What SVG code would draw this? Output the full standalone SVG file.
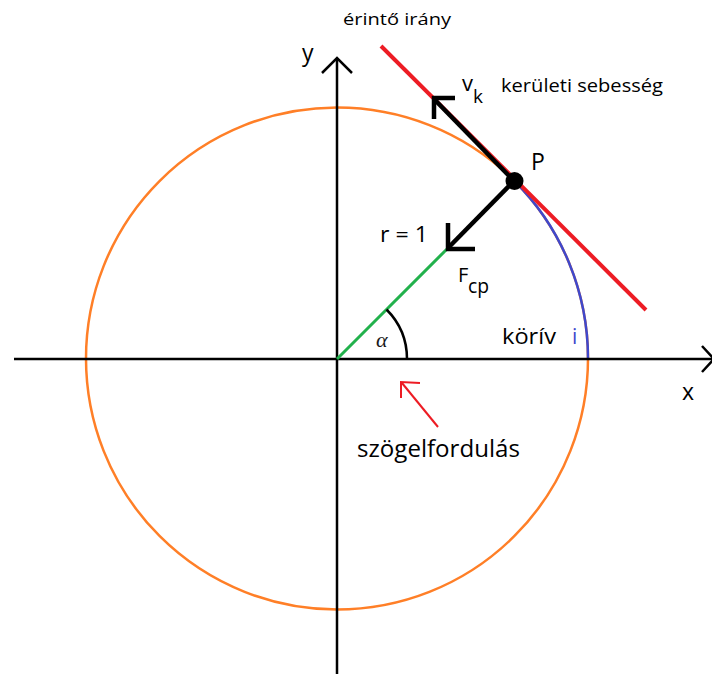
<svg xmlns="http://www.w3.org/2000/svg" width="712" height="674" viewBox="0 0 712 674">
<style>
.t{font-family:"Open Sans","Liberation Sans",sans-serif;fill:#000}
.ax{stroke:#000;stroke-width:2.5;fill:none}
.blk{stroke:#000;stroke-width:4.5;fill:none;stroke-linecap:butt}
</style>
<rect width="712" height="674" fill="#fff"/>
<g id="circle">
<circle cx="337" cy="358.5" r="251" fill="none" stroke="#ff7f27" stroke-width="2.5"/>
<path d="M514.5,181 A251,251 0 0 1 588,358.5" fill="none" stroke="#3f48cc" stroke-width="2.5"/>
</g>
<g id="connectors">
<line class="ax" x1="14" y1="359" x2="713" y2="359"/>
<polyline class="ax" points="702,346 714,359 702,372"/>
<line class="ax" x1="337" y1="58" x2="337" y2="674"/>
<polyline class="ax" points="322,73 337,58 352,73"/>
<line x1="381" y1="46" x2="646" y2="310" stroke="#ed1c24" stroke-width="4"/>
<line x1="337" y1="359" x2="447" y2="249" stroke="#22b14c" stroke-width="3"/>
<path d="M407,359 A70,70 0 0 0 386.5,309.5" fill="none" stroke="#000" stroke-width="2.5"/>
<line class="blk" x1="514" y1="181" x2="434" y2="99"/>
<polyline class="blk" points="455,98 434,98 434,119"/>
<line class="blk" x1="514" y1="181" x2="448" y2="248"/>
<polyline class="blk" points="448,223 448,249 475,249"/>
<line x1="438" y1="427" x2="402" y2="383" stroke="#ed1c24" stroke-width="2"/>
<polyline points="420,383 401,382 401,398" fill="none" stroke="#ed1c24" stroke-width="2"/>
</g>
<g id="point-P">
<circle cx="514.5" cy="181" r="9" fill="#000"/>
<text class="t" x="531" y="170" font-size="23">P</text>
</g>
<g id="labels">
<text class="t" x="343" y="25" font-size="17" textLength="108" lengthAdjust="spacingAndGlyphs">érintő irány</text>
<text class="t" x="302" y="61" font-size="23">y</text>
<text class="t" x="462" y="91" font-size="22">v</text>
<text class="t" x="473" y="103" font-size="19">k</text>
<text class="t" x="501" y="92" font-size="18" textLength="162" lengthAdjust="spacingAndGlyphs">kerületi sebesség</text>
<text class="t" x="380" y="242" font-size="22" textLength="48" lengthAdjust="spacingAndGlyphs">r = 1</text>
<text class="t" x="458" y="282" font-size="20">F</text>
<text class="t" x="468" y="293" font-size="20" textLength="21" lengthAdjust="spacingAndGlyphs">cp</text>
<text x="376" y="347" font-size="22" font-style="italic" font-family="Liberation Serif,serif" fill="#1a1a1a">α</text>
<text class="t" x="502" y="344" font-size="22" textLength="54" lengthAdjust="spacingAndGlyphs">körív</text>
<text class="t" x="572" y="344" font-size="21" fill="#3f48cc" style="fill:#3f48cc">i</text>
<text class="t" x="682" y="400" font-size="23">x</text>
<text class="t" x="357" y="457" font-size="23" textLength="163" lengthAdjust="spacingAndGlyphs">szögelfordulás</text>
</g>
</svg>
